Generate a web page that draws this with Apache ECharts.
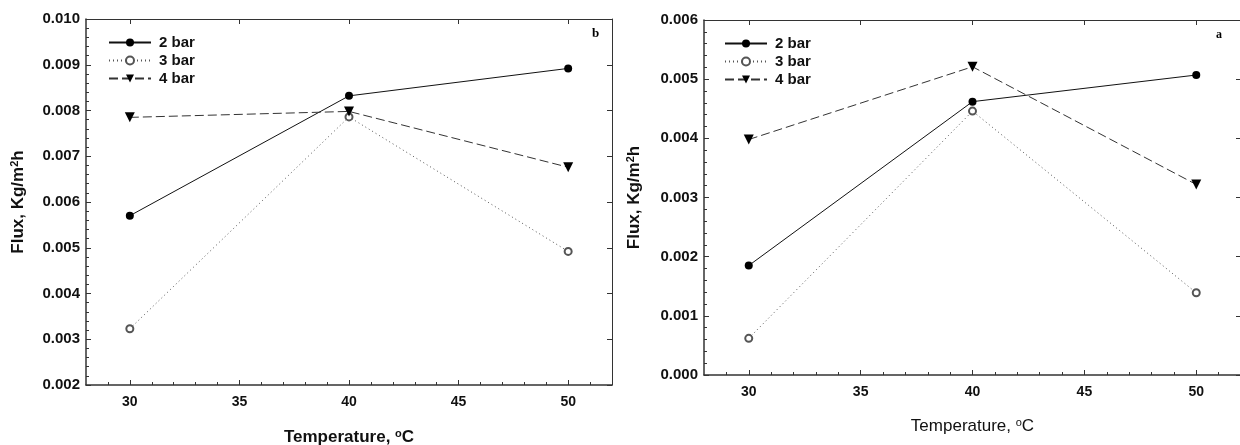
<!DOCTYPE html>
<html>
<head>
<meta charset="utf-8">
<title>Flux vs temperature</title>
<script src="https://cdn.jsdelivr.net/npm/echarts@6/dist/echarts.min.js"></script>
<style>
  * { margin: 0; }
  body { background: #fff; }
</style>
</head>
<body>
<div id="main" style="width:1240px;height:445px;"></div>
<script>
// temperatures (x) and flux values
var temps = [30, 40, 50];
var names = ['2 bar', '3 bar', '4 bar'];

// panel b (left)
var b2 = [0.00570, 0.00832, 0.00892];
var b3 = [0.00323, 0.00786, 0.00492];
var b4 = [0.00785, 0.00798, 0.00676];

// panel a (right)
var a2 = [0.00185, 0.00462, 0.00507];
var a3 = [0.00062, 0.00446, 0.00139];
var a4 = [0.00398, 0.00521, 0.00322];

var majorX = [30, 35, 40, 45, 50];
var minorX = [29, 31, 32, 33, 34, 36, 37, 38, 39, 41, 42, 43, 44, 46, 47, 48, 49, 51];

var font = 'Liberation Sans, Arial, sans-serif';
var axisCol = '#333';

function pts(v) {
  return temps.map(function (t, i) { return [t, v[i]]; });
}

// superscript style for m², °C
function supRich(bold) {
  return { sup: { fontFamily: font, fontSize: 11, fontWeight: bold ? 'bold' : 'normal', color: '#111', verticalAlign: 'top', padding: [0, 0, 8, 0] } };
}

function xAxes(grid, titleBold, nameGap) {
  return [
    { // bottom, majors + labels + title
      type: 'value', gridIndex: grid, min: 28, max: 52, position: 'bottom',
      name: 'Temperature, {sup|o}C', nameLocation: 'middle', nameGap: nameGap,
      nameTextStyle: { fontFamily: font, fontSize: 17, fontWeight: titleBold ? 'bold' : 'normal', color: '#111', rich: supRich(titleBold) },
      axisLine: { lineStyle: { color: axisCol, width: 1.5 } },
      axisTick: { inside: true, length: 5, customValues: majorX, lineStyle: { color: axisCol } },
      axisLabel: { customValues: majorX, fontFamily: font, fontSize: 14, fontWeight: 'bold', color: '#111', margin: 10 },
      splitLine: { show: false }
    },
    { // bottom minors
      type: 'value', gridIndex: grid, min: 28, max: 52, position: 'bottom',
      axisLine: { show: false },
      axisTick: { inside: true, length: 3, customValues: minorX, lineStyle: { color: axisCol } },
      axisLabel: { show: false },
      splitLine: { show: false }
    },
    { // top majors
      type: 'value', gridIndex: grid, min: 28, max: 52, position: 'top',
      axisLine: { lineStyle: { color: axisCol } },
      axisTick: { inside: true, length: 5, customValues: majorX, lineStyle: { color: axisCol } },
      axisLabel: { show: false },
      splitLine: { show: false }
    }
  ];
}

function yAxes(grid, min, max, nameGap) {
  return [
    {
      type: 'value', gridIndex: grid, min: min, max: max, interval: 0.001, position: 'left',
      name: 'Flux, Kg/m{sup|2}h', nameLocation: 'middle', nameGap: nameGap,
      nameTextStyle: { fontFamily: font, fontSize: 17, fontWeight: 'bold', color: '#111', rich: supRich(true) },
      axisLine: { lineStyle: { color: axisCol, width: 1.5 } },
      axisTick: { inside: true, length: 5, lineStyle: { color: axisCol } },
      minorTick: { show: true, splitNumber: 5, length: 3, lineStyle: { color: axisCol } },
      axisLabel: {
        fontFamily: font, fontSize: 15, fontWeight: 'bold', color: '#111', margin: 6,
        formatter: function (v) { return v.toFixed(3); }
      },
      splitLine: { show: false }
    },
    {
      type: 'value', gridIndex: grid, min: min, max: max, interval: 0.001, position: 'right',
      axisLine: { lineStyle: { color: axisCol } },
      axisTick: { inside: true, length: 5, lineStyle: { color: axisCol } },
      axisLabel: { show: false },
      splitLine: { show: false }
    }
  ];
}

function series(xi, yi, v2, v3, v4) {
  return [
    {
      name: names[0], type: 'line', xAxisIndex: xi, yAxisIndex: yi, data: pts(v2),
      symbol: 'circle', symbolSize: 8,
      itemStyle: { color: '#000' },
      lineStyle: { color: '#111', width: 1 }
    },
    {
      name: names[1], type: 'line', xAxisIndex: xi, yAxisIndex: yi, data: pts(v3),
      symbol: 'emptyCircle', symbolSize: 7,
      itemStyle: { color: '#555', borderColor: '#555', borderWidth: 1 },
      lineStyle: { color: '#555', width: 1, type: [1, 3] }
    },
    {
      name: names[2], type: 'line', xAxisIndex: xi, yAxisIndex: yi, data: pts(v4),
      symbol: 'triangle', symbolRotate: 180, symbolSize: 10,
      itemStyle: { color: '#000' },
      lineStyle: { color: '#333', width: 1, type: [9, 4] }
    }
  ];
}

function legend(left, top) {
  return {
    data: names, orient: 'vertical', left: left, top: top,
    itemWidth: 42, itemHeight: 10, itemGap: 3, padding: 0,
    textStyle: { fontFamily: font, fontSize: 15, fontWeight: 'bold', color: '#111', padding: [0, 0, 0, 3] }
  };
}

var chart = echarts.init(document.getElementById('main'), null, { renderer: 'canvas' });
chart.setOption({
  animation: false,
  backgroundColor: '#fff',
  grid: [
    { left: 86, top: 19, width: 526, height: 366, outerBoundsMode: 'none' },
    { left: 704, top: 20, width: 537, height: 355, outerBoundsMode: 'none' }
  ],
  legend: [legend(108, 35), legend(724, 36)],
  xAxis: xAxes(0, true, 43).concat(xAxes(1, false, 42)),
  yAxis: yAxes(0, 0.002, 0.010, 58).concat(yAxes(1, 0, 0.006, 60)),
  series: series(0, 0, b2, b3, b4).concat(series(3, 2, a2, a3, a4)),
  graphic: [
    { type: 'text', left: 592, top: 27, style: { text: 'b', font: 'bold 13px "Liberation Serif", serif', fill: '#000' } },
    { type: 'text', left: 1216, top: 29, style: { text: 'a', font: 'bold 12px "Liberation Serif", serif', fill: '#000' } }
  ]
});
</script>
</body>
</html>
